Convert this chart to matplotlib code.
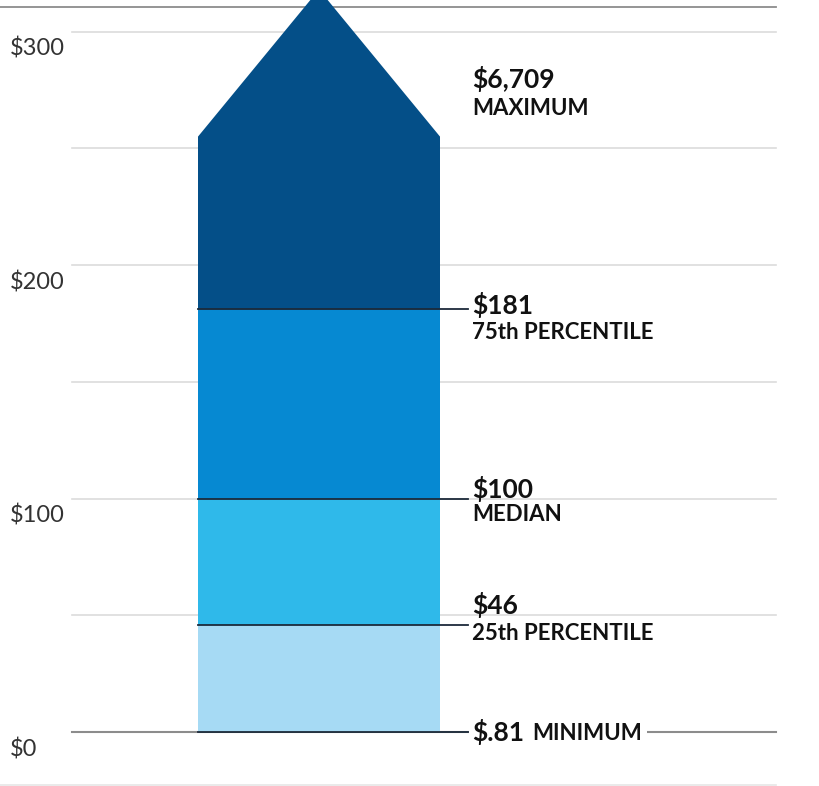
import matplotlib
matplotlib.use("Agg")
import matplotlib.pyplot as plt
from matplotlib.patches import Polygon

# stacked band boundaries (dollars) and their labels
bounds = [0.81, 46, 100, 181]
values = ["$.81", "$46", "$100", "$181", "$6,709"]
names = ["MINIMUM", "25th PERCENTILE", "MEDIAN", "75th PERCENTILE", "MAXIMUM"]
colors = ["#a6daf4", "#2fb9ea", "#0689d2", "#044f88"]
arrow_base = 255      # top band is drawn as an arrow (max is off the scale)
arrow_tip = 318
grid_vals = [0, 50, 100, 150, 200, 250, 300]
tick_vals = [0, 100, 200, 300]
tick_labels = ["$0", "$100", "$200", "$300"]

FONT = "Lato"
fig = plt.figure(figsize=(8.19, 7.86), dpi=100)
ax = fig.add_axes([0, 0, 1, 1])
ax.set_xlim(0, 819)
ax.set_ylim(-23.1, 313.5)
ax.axis("off")

x0, x1 = 198, 440
lab_x = 472

# grid
for g in grid_vals:
    if g == 0:
        continue
    ax.plot([72, 776], [g, g], color="#dcdcdc", lw=1.2, zorder=0)
ax.plot([0, 776], [310.5, 310.5], color="#8c8c8c", lw=1.3, zorder=0)
ax.plot([0, 776], [-22.6, -22.6], color="#e6e6e6", lw=1.2, zorder=0)
ax.plot([72, 776], [0, 0], color="#8c8c8c", lw=1.5, zorder=0)

for v, t in zip(tick_vals, tick_labels):
    ax.annotate(t, (10, v), xytext=(0, -6), textcoords="offset pixels",
                ha="left", va="top", fontsize=17, color="#333333", family=FONT)

# bands (lower three as rectangles, top one as house-shaped arrow)
edges = [0] + bounds[1:]
for i in range(3):
    ax.fill_between([x0, x1], edges[i], edges[i + 1], color=colors[i], lw=0, zorder=2)
ax.add_patch(Polygon([(x0, edges[3]), (x0, arrow_base), ((x0 + x1) / 2, arrow_tip),
                      (x1, arrow_base), (x1, edges[3])],
                     closed=True, facecolor=colors[3], edgecolor="none", zorder=2))

# boundary / leader lines
for b in [0] + bounds[1:]:
    ax.plot([x0, lab_x - 4], [b, b], color="#1c2a3a", lw=1.3, zorder=3)

# minimum label sits on the zero line
ax.text(lab_x, 0, values[0], ha="left", va="center", fontsize=19, fontweight="bold",
        color="#111111", family=FONT, zorder=4,
        bbox=dict(facecolor="white", edgecolor="none", pad=2))
ax.text(lab_x + 60, -0.5, names[0], ha="left", va="center", fontsize=16,
        fontweight="bold", color="#111111", family=FONT, zorder=4,
        bbox=dict(facecolor="white", edgecolor="none", pad=4))

# other labels: value above, name below (pixel offsets from anchor value)
label_y = bounds[1:] + [276]
val_off = [11, 1, -5, 0]
name_off = [2, -5, -13, -10]
for v, val, nm, vo, no in zip(label_y, values[1:], names[1:], val_off, name_off):
    ax.annotate(val, (lab_x, v), xytext=(0, vo), textcoords="offset pixels",
                ha="left", va="baseline", fontsize=19, fontweight="bold",
                color="#111111", family=FONT, zorder=4)
    ax.annotate(nm, (lab_x, v), xytext=(0, no), textcoords="offset pixels",
                ha="left", va="top", fontsize=16, fontweight="bold",
                color="#111111", family=FONT, zorder=4)

fig.savefig("out.png", dpi=100)
